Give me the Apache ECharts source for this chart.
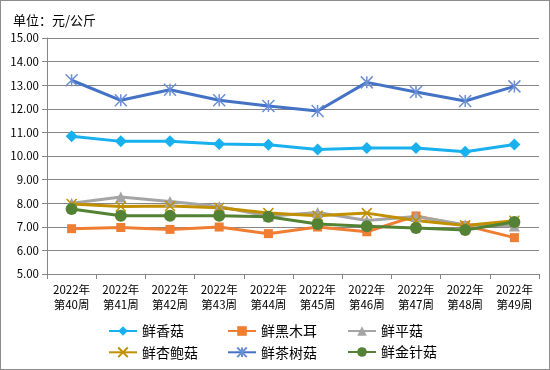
<!DOCTYPE html>
<html><head><meta charset="utf-8">
<script src="https://cdn.jsdelivr.net/npm/echarts@6/dist/echarts.min.js"></script>
<style>html,body{margin:0;padding:0;background:#fff}#c{width:550px;height:370px;box-sizing:border-box;border:1px solid #8c8c8c}</style>
</head><body><div id="c"></div>
<script>
const categories = ['2022年\n第40周','2022年\n第41周','2022年\n第42周','2022年\n第43周','2022年\n第44周','2022年\n第45周','2022年\n第46周','2022年\n第47周','2022年\n第48周','2022年\n第49周'];
const xiangGu   = [10.84,10.62,10.62,10.51,10.48,10.28,10.34,10.34,10.18,10.49];
const heiMuEr   = [6.92,6.97,6.89,6.99,6.71,6.99,6.79,7.46,7.05,6.54];
const pingGu    = [8.00,8.26,8.07,7.86,7.45,7.61,7.27,7.44,7.09,7.03];
const xingBaoGu = [7.97,7.86,7.88,7.81,7.58,7.47,7.58,7.27,7.06,7.26];
const chaShuGu  = [13.21,12.36,12.81,12.36,12.12,11.91,13.12,12.71,12.33,12.95];
const jinZhenGu = [7.75,7.47,7.47,7.47,7.43,7.12,7.02,6.95,6.86,7.20];
const names = ['鲜香菇','鲜黑木耳','鲜平菇','鲜杏鲍菇','鲜茶树菇','鲜金针菇'];

const font = '"Noto Sans CJK SC", "DejaVu Sans", sans-serif';
const chart = echarts.init(document.getElementById('c'));
function s(name, data, color, symbol, size, extra) {
  return Object.assign({
    name, type: 'line', data, symbol, symbolSize: size,
    lineStyle: { color, width: 3 },
    itemStyle: { color },
    animation: false
  }, extra || {});
}
const colLeft = [107, 226, 346];
const rowTop = [323, 344];
const legends = names.map((n, i) => ({
  data: [n], left: colLeft[i % 3], top: rowTop[Math.floor(i / 3)],
  padding: 0, itemWidth: 28, itemHeight: 12, itemGap: 0,
  textStyle: { fontFamily: font, fontSize: 14, color: '#000' }
}));
chart.setOption({
  animation: false,
  title: { text: '单位：元/公斤', left: 7, top: 8, textStyle: { fontFamily: font, fontSize: 13, fontWeight: 'normal', color: '#000' } },
  grid: { left: 46, right: 10, top: 37, bottom: 95 },
  xAxis: {
    type: 'category', data: categories, boundaryGap: true,
    axisLine: { lineStyle: { color: '#868686' } },
    axisTick: { show: true, length: 5, lineStyle: { color: '#868686' } },
    axisLabel: { color: '#000', fontFamily: font, fontSize: 11.5, lineHeight: 15, interval: 0, margin: 8 }
  },
  yAxis: {
    type: 'value', min: 5, max: 15, interval: 1,
    axisLine: { show: true, lineStyle: { color: '#868686' } },
    axisTick: { show: true, length: 5, lineStyle: { color: '#868686' } },
    splitLine: { lineStyle: { color: '#868686' } },
    axisLabel: { color: '#000', fontFamily: font, fontSize: 11.5, margin: 8, formatter: v => v.toFixed(2) }
  },
  legend: legends,
  series: [
    s(names[0], xiangGu, '#19b0ee', 'diamond', 12),
    s(names[1], heiMuEr, '#ef7d32', 'rect', 9),
    s(names[2], pingGu, '#a5a5a5', 'triangle', 11),
    s(names[3], xingBaoGu, '#c09000', 'path://M0,0L10,10M10,0L0,10', 10, { itemStyle: { color: 'none', borderColor: '#c09000', borderWidth: 1.5 } }),
    s(names[4], chaShuGu, '#4472c4', 'path://M0,0L10,10M10,0L0,10M5,0L5,10', 12, { itemStyle: { color: 'none', borderColor: '#6a8fd6', borderWidth: 1.5 } }),
    s(names[5], jinZhenGu, '#548235', 'circle', 12)
  ]
});
</script></body></html>
